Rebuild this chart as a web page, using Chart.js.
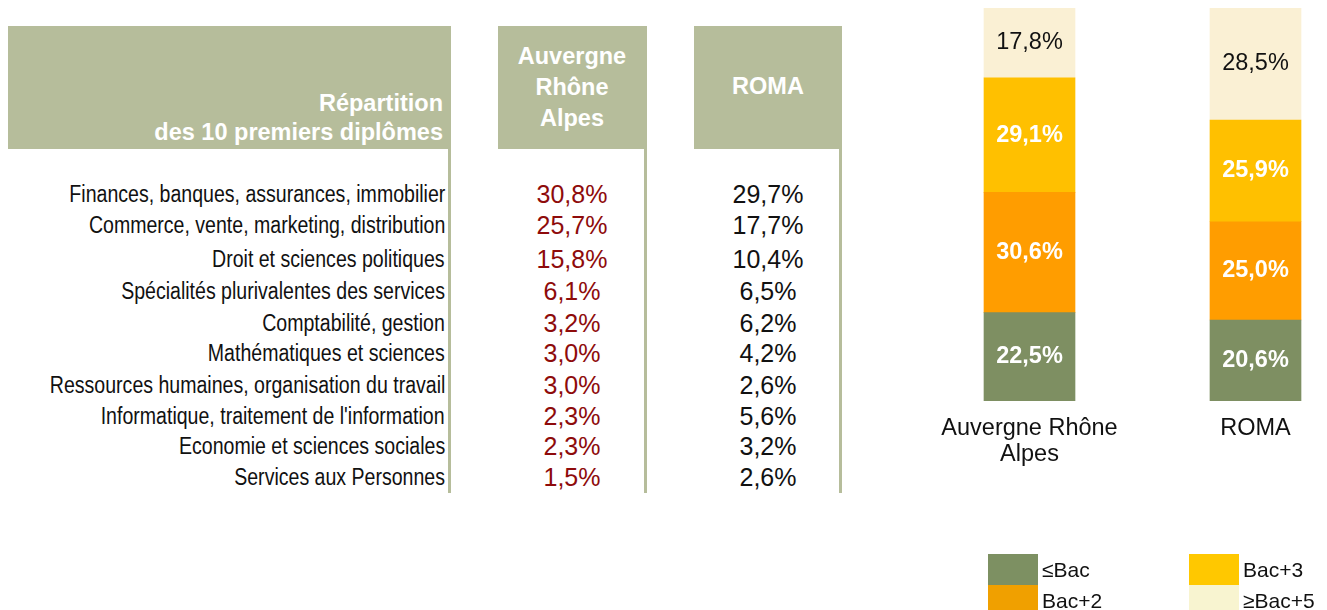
<!DOCTYPE html>
<html lang="fr">
<head>
<meta charset="utf-8">
<title>Répartition des 10 premiers diplômes</title>
<script src="https://cdn.jsdelivr.net/npm/chart.js@4.4.1/dist/chart.umd.min.js"></script>
<style>
    html, body { margin: 0; padding: 0; background: #fff; overflow: hidden; }
    body { width: 1327px; height: 610px; position: relative; font-family: Arial, "Liberation Sans", sans-serif; }
    .band { position: absolute; background: #b6bd9b; }
    .head { position: absolute; color: #fff; font-weight: bold; font-size: 23.5px; line-height: 30px; white-space: nowrap; }
    .lbl { position: absolute; right: 882px; font-size: 23px; line-height: 31.4px; height: 31.4px; white-space: nowrap; color: #111;
           transform: scaleX(0.85); transform-origin: right center; }
    .val { position: absolute; width: 150px; text-align: center; font-size: 25px; line-height: 31.4px; height: 31.4px; white-space: nowrap; }
    #chart-box { position: absolute; left: 880px; top: 0; width: 500px; height: 610px; }
    .leg-sw { position: absolute; width: 50px; height: 31px; }
    .leg-tx { position: absolute; font-size: 21px; line-height: 31px; color: #111; white-space: nowrap; }
</style>
</head>
<body>
<div id="table"></div>
<div id="chart-box"><canvas id="bac-chart"></canvas></div>
<div id="legend"></div>

<script>
// table: share of the 10 main diplomas
const diplomes = [
    'Finances, banques, assurances, immobilier',
    'Commerce, vente, marketing, distribution',
    'Droit et sciences politiques',
    'Spécialités plurivalentes des services',
    'Comptabilité, gestion',
    'Mathématiques et sciences',
    'Ressources humaines, organisation du travail',
    "Informatique, traitement de l'information",
    'Economie et sciences sociales',
    'Services aux Personnes'
];
const partAura = [30.8, 25.7, 15.8, 6.1, 3.2, 3.0, 3.0, 2.3, 2.3, 1.5];
const partRoma = [29.7, 17.7, 10.4, 6.5, 6.2, 4.2, 2.6, 5.6, 3.2, 2.6];

// stacked bars: level of diploma
const zones = ['Auvergne Rhône Alpes', 'ROMA'];
const zoneTicks = [['Auvergne Rhône', 'Alpes'], ['ROMA']];
const niveaux = ['≤Bac', 'Bac+2', 'Bac+3', '≥Bac+5'];
const bacOuMoins = [22.5, 20.6];
const bac2 = [30.6, 25.0];
const bac3 = [29.1, 25.9];
const bac5Plus = [17.8, 28.5];

const niveauColors = ['#7e8f62', '#ff9d00', '#ffc000', '#faf0d4'];
const legendColors = ['#7d9062', '#f0a000', '#ffc800', '#f8f4d0'];

// layout only: vertical centre of each table row (uneven row heights in the sheet)
const rowCenters = [195, 226, 259.5, 291.5, 324, 354, 385.5, 416.5, 446.5, 477.5];

function fmtPct(v) {
    return v.toFixed(1).replace('.', ',') + '%';
}

document.addEventListener("DOMContentLoaded", () => {
    buildTable();
    buildChart();
    buildLegend();
});

function buildTable() {
    const container = document.getElementById('table');
    let html = '';

    // header bands + column rules
    html += '<div class="band" style="left:8px;top:26px;width:443px;height:123px;"></div>';
    html += '<div class="band" style="left:448px;top:149px;width:3px;height:344px;"></div>';
    html += '<div class="band" style="left:498px;top:26px;width:149px;height:123px;"></div>';
    html += '<div class="band" style="left:644px;top:149px;width:3px;height:344px;"></div>';
    html += '<div class="band" style="left:694px;top:26px;width:148px;height:123px;"></div>';
    html += '<div class="band" style="left:839px;top:149px;width:3px;height:344px;"></div>';

    html += '<div class="head" style="right:884px;top:89px;line-height:29px;text-align:right;">Répartition<br>des 10 premiers diplômes</div>';
    html += '<div class="head" style="left:497px;width:150px;top:41px;line-height:31px;text-align:center;">Auvergne<br>Rhône<br>Alpes</div>';
    html += '<div class="head" style="left:693px;width:150px;top:71px;text-align:center;">ROMA</div>';

    diplomes.forEach((d, i) => {
        const top = rowCenters[i] - 15.7;
        html += `<div class="lbl" style="top:${top}px;">${d}</div>`;
        html += `<div class="val" style="left:497px;top:${top}px;color:#8e0b0b;">${fmtPct(partAura[i])}</div>`;
        html += `<div class="val" style="left:693px;top:${top}px;color:#111;">${fmtPct(partRoma[i])}</div>`;
    });

    container.innerHTML = html;
}

const barLabels = {
    id: 'barLabels',
    afterDatasetsDraw(chart) {
        const ctx = chart.ctx;
        chart.data.datasets.forEach((ds, i) => {
            const meta = chart.getDatasetMeta(i);
            meta.data.forEach((bar, j) => {
                ctx.save();
                ctx.font = (i === 3 ? '' : 'bold ') + '23.5px Arial, "Liberation Sans", sans-serif';
                ctx.fillStyle = i === 3 ? '#111' : '#fff';
                ctx.textAlign = 'center';
                ctx.textBaseline = 'middle';
                ctx.fillText(fmtPct(ds.data[j]), bar.x, (bar.y + bar.base) / 2);
                ctx.restore();
            });
        });
    }
};

function buildChart() {
    const ctx = document.getElementById('bac-chart').getContext('2d');
    const series = [bacOuMoins, bac2, bac3, bac5Plus];

    new Chart(ctx, {
        type: 'bar',
        data: {
            labels: zoneTicks,
            datasets: niveaux.map((n, i) => ({
                label: n,
                data: series[i],
                backgroundColor: niveauColors[i],
                borderWidth: 0,
                barThickness: 91
            }))
        },
        options: {
            responsive: true,
            maintainAspectRatio: false,
            animation: false,
            layout: { padding: { left: 36.5, right: 11.5, top: 8, bottom: 129 } },
            plugins: {
                legend: { display: false },
                tooltip: { enabled: false }
            },
            scales: {
                x: {
                    stacked: true,
                    border: { display: false },
                    grid: { display: false, drawTicks: false },
                    ticks: {
                        color: '#111',
                        padding: 15,
                        maxRotation: 0,
                        font: { family: 'Arial, "Liberation Sans", sans-serif', size: 23.5, lineHeight: '26px' }
                    },
                    afterFit: scale => { scale.height = 80; }
                },
                y: {
                    stacked: true,
                    display: false,
                    min: 0,
                    max: 100
                }
            }
        },
        plugins: [barLabels]
    });
}

function buildLegend() {
    const container = document.getElementById('legend');
    let html = '';
    niveaux.forEach((n, i) => {
        const col = Math.floor(i / 2);
        const row = i % 2;
        const left = 988 + col * 201;
        const top = 554 + row * 31;
        html += `<div class="leg-sw" style="left:${left}px;top:${top}px;background:${legendColors[i]};"></div>`;
        html += `<div class="leg-tx" style="left:${left + 54}px;top:${top}px;">${n}</div>`;
    });
    container.innerHTML = html;
}
</script>
</body>
</html>
